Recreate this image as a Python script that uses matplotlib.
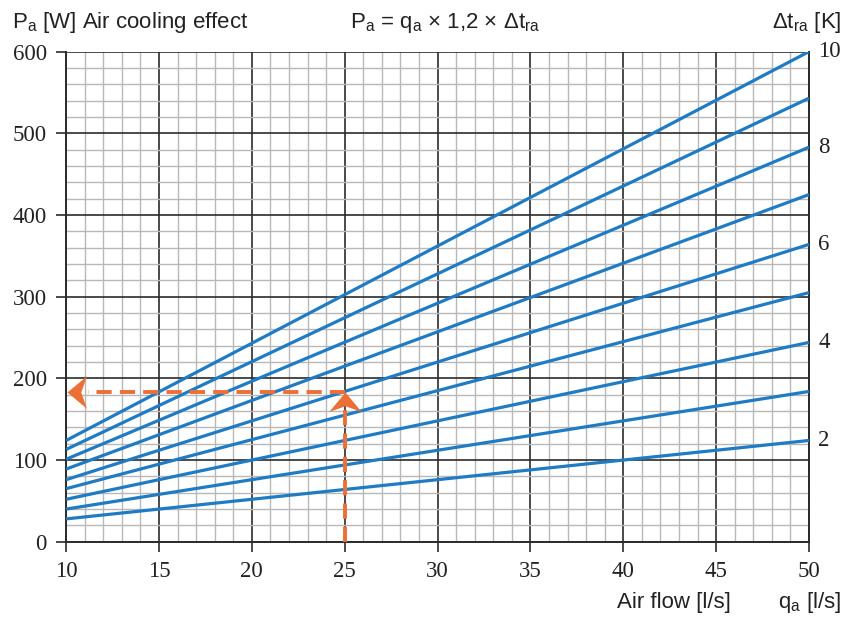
import matplotlib
matplotlib.use('Agg')
import matplotlib.pyplot as plt
from matplotlib.path import Path
import numpy as np

plt.rcParams['mathtext.fontset'] = 'custom'
plt.rcParams['mathtext.rm'] = 'Liberation Sans'
plt.rcParams['mathtext.it'] = 'Liberation Sans'
plt.rcParams['mathtext.bf'] = 'Liberation Sans'

# air flow range [l/s]
q_ends = [10, 50]
# temperature difference per line [K]
dt_values = [10, 9, 8, 7, 6, 5, 4, 3, 2]
# cooling effect read at q=10 and q=50 [W]
p_at_10 = [124, 113, 101, 89, 76, 65, 52, 40, 28]
p_at_50 = [600, 543, 483, 425, 364, 305, 244, 184, 124]

# right side labels
right_ticks = [600, 483, 364, 244, 124]
right_labels = ['10', '8', '6', '4', '2']

# example reading
example_q = 25
example_p = 183

blue = '#1f7bc4'
orange = '#ec7036'
serif = 'Liberation Serif'
sans = 'Liberation Sans'

# barbed arrow heads, tip at the origin
head_up = Path([(0, 0), (-1, -1.2), (0, -0.85), (1, -1.2), (0, 0)],
               [Path.MOVETO, Path.LINETO, Path.LINETO, Path.LINETO, Path.CLOSEPOLY])
head_left = Path([(0, 0), (1.2, 1), (0.85, 0), (1.2, -1), (0, 0)],
                 [Path.MOVETO, Path.LINETO, Path.LINETO, Path.LINETO, Path.CLOSEPOLY])

fig = plt.figure(figsize=(8.48, 6.22), dpi=100)
ax = fig.add_axes([0.078, 0.129, 0.876, 0.788])

ax.set_xlim(10, 50)
ax.set_ylim(0, 600)

ax.set_xticks(np.arange(10, 51, 5))
ax.set_yticks(np.arange(0, 601, 100))
ax.set_xticks(np.arange(10, 51, 1), minor=True)
ax.set_yticks(np.arange(0, 601, 20), minor=True)
ax.grid(which='minor', color='#b8b8b8', lw=1.0)
ax.grid(which='major', color='#2b2b2b', lw=1.2)
ax.set_axisbelow(True)
ax.tick_params(which='minor', length=0)
ax.tick_params(which='major', direction='out', length=7, width=1.2, color='#2b2b2b',
               labelsize=16.5, pad=7)
for lab in ax.get_xticklabels() + ax.get_yticklabels():
    lab.set_fontfamily(serif)
    lab.set_color('#222222')

for s in ['left', 'bottom', 'right']:
    ax.spines[s].set_color('#2b2b2b')
    ax.spines[s].set_linewidth(1.4)
ax.spines['top'].set_visible(False)

for p0, p1 in zip(p_at_10, p_at_50):
    ax.plot(q_ends, [p0, p1], color=blue, lw=2.3, solid_capstyle='butt', zorder=3)

# example: dashed arrows
ax.plot([example_q, example_q], [0, example_p - 14], color=orange, lw=2.8,
        dashes=(3.9, 2.1), zorder=4)
ax.plot([example_q, 11.2], [example_p, example_p], color=orange, lw=2.8,
        dashes=(3.9, 2.1), zorder=4)
ax.plot([example_q], [example_p], marker=head_up, markersize=28, color=orange,
        markeredgewidth=0, zorder=5, clip_on=False)
ax.plot([10.05], [example_p], marker=head_left, markersize=28, color=orange,
        markeredgewidth=0, zorder=5, clip_on=False)

# right labels
for y, lab in zip(right_ticks, right_labels):
    ax.text(50.5, y, lab, fontsize=16.5, family=serif, color='#222222',
            ha='left', va='center', clip_on=False)

fig.text(0.014, 0.955, r'P$_{\rm a}$ [W] Air cooling effect', fontsize=16,
         family=sans, color='#222222', ha='left', va='baseline')
fig.text(0.525, 0.955, r'P$_{\rm a}$ = q$_{\rm a}$ × 1,2 × Δt$_{\rm ra}$', fontsize=16,
         family=sans, color='#222222', ha='center', va='baseline')
fig.text(0.992, 0.955, r'Δt$_{\rm ra}$ [K]', fontsize=16,
         family=sans, color='#222222', ha='right', va='baseline')
fig.text(0.728, 0.022, 'Air flow [l/s]', fontsize=16,
         family=sans, color='#222222', ha='left', va='baseline')
fig.text(0.992, 0.022, r'q$_{\rm a}$ [l/s]', fontsize=16,
         family=sans, color='#222222', ha='right', va='baseline')

fig.savefig('out.png', dpi=100, facecolor='white')
